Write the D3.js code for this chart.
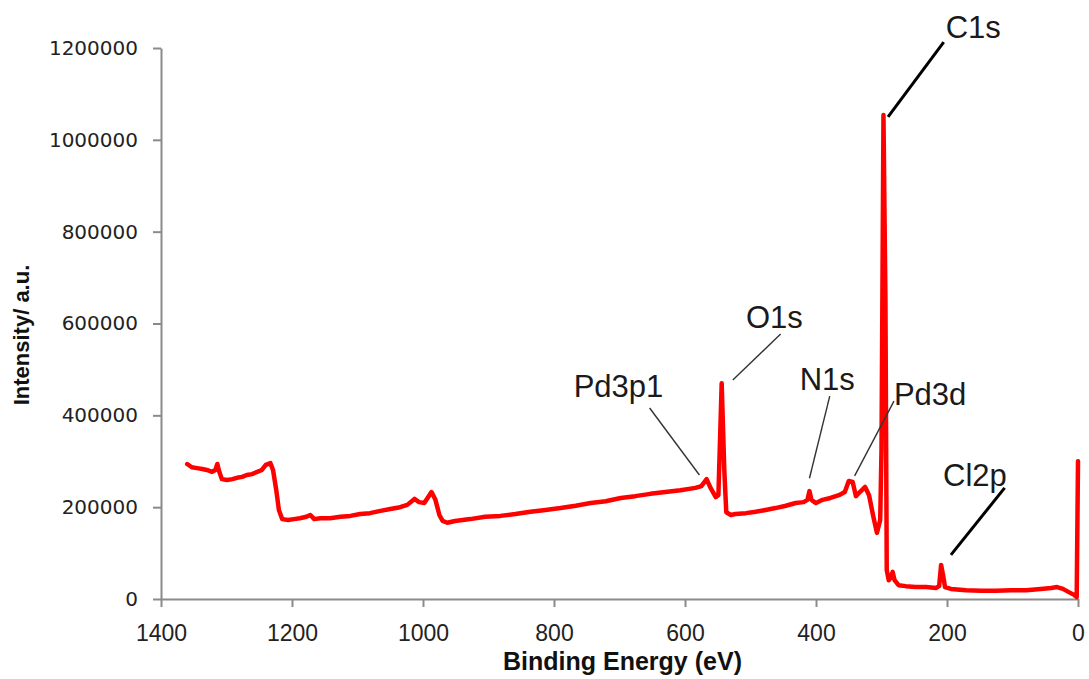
<!DOCTYPE html>
<html>
<head>
<meta charset="utf-8">
<script src="https://cdn.jsdelivr.net/npm/d3@7"></script>
<style>
  html, body { margin: 0; padding: 0; background: #fff; }
  #viewPanel { width: 1089px; height: 679px; }
</style>
</head>
<body>
<div id="viewPanel"></div>
<script>
// XPS survey spectrum, binding energy (eV) vs intensity (a.u.)
const energy = [
  1360, 1353, 1345, 1337, 1330, 1322, 1317, 1314, 1311, 1307,
  1299, 1291, 1284, 1276, 1269, 1261, 1253, 1246, 1240, 1233,
  1229, 1224, 1220, 1215,
  1206, 1197, 1188, 1178, 1172, 1166, 1157, 1142, 1126, 1111,
  1096, 1081, 1065, 1050, 1035, 1024, 1013, 1006, 998, 992,
  987, 981, 975, 970, 963,
  951, 928, 905, 882, 859, 836, 813, 790, 767, 744,
  721, 698, 676, 653, 630, 607, 584, 575, 567, 561,
  553, 549, 544, 540, 537, 530,
  523, 507, 492, 477, 462, 446, 431, 419, 413, 410,
  407, 400, 390, 378, 365, 356, 350, 344, 339, 333,
  325, 319, 313, 307, 302, 300, 297, 294, 292, 289,
  286, 283, 280, 274, 263, 248, 232, 217, 212, 209,
  206, 203, 194, 171, 148, 125, 102, 79, 57, 41,
  32, 23, 14, 6, 2, 0
];
const intensity = [
  294000, 287000, 285000, 283000, 281000, 277000, 281000, 294000, 277000, 261000,
  259000, 261000, 264000, 266000, 270000, 272000, 277000, 281000, 292000, 296000,
  281000, 237000, 194000, 174000,
  172000, 174000, 176000, 179000, 183000, 174000, 176000, 176000, 179000, 181000,
  185000, 187000, 192000, 196000, 200000, 205000, 218000, 211000, 209000, 222000,
  233000, 216000, 183000, 170000, 166000,
  170000, 174000, 179000, 181000, 185000, 190000, 194000, 198000, 203000, 209000,
  213000, 220000, 224000, 229000, 233000, 237000, 242000, 246000, 261000, 242000,
  222000, 226000, 470000, 281000, 189000, 183000,
  185000, 187000, 190000, 194000, 198000, 203000, 209000, 211000, 216000, 235000,
  216000, 209000, 216000, 220000, 226000, 233000, 257000, 255000, 224000, 233000,
  244000, 226000, 183000, 144000, 172000, 325000, 1054000, 651000, 63000, 41000,
  46000, 59000, 41000, 30000, 28000, 26000, 26000, 24000, 28000, 74000,
  52000, 26000, 22000, 19000, 18000, 18000, 19000, 19000, 22000, 24000,
  26000, 22000, 15000, 9000, 4000, 300000
];

const xTicks = [1400, 1200, 1000, 800, 600, 400, 200, 0];
const yTicks = [0, 200000, 400000, 600000, 800000, 1000000, 1200000];

// peak annotations: label, text anchor point and leader line ends (data units)
const annLabels = ["C1s", "O1s", "Pd3p1", "N1s", "Pd3d", "Cl2p"];
const annTextE  = [202, 507, 770, 425, 281, 206];
const annTextI  = [1222000, 590000, 440000, 455000, 422000, 246000];
const annFromE  = [205, 454, 654, 379, 281, 112];
const annFromI  = [1213000, 577000, 416000, 442000, 431000, 242000];
const annToE    = [290, 527, 578, 410, 341, 194];
const annToI    = [1050000, 477000, 270000, 263000, 268000, 96000];

const thickLeaders = new Set(["C1s", "Cl2p"]);

const width = 1089;
const height = 679;
const margin = { top: 48, right: 11, bottom: 80, left: 161 };
const axisColor = '#8a8a8a';

const x = d3.scaleLinear()
    .domain([1400, 0])
    .range([margin.left, width - margin.right]);

const y = d3.scaleLinear()
    .domain([0, 1200000])
    .range([height - margin.bottom, margin.top]);

const svg = d3.select('#viewPanel')
    .append('svg')
    .attr('width', width)
    .attr('height', height)
    .attr('viewBox', [0, 0, width, height]);

// Y axis
const yAxis = svg.append('g')
    .attr('transform', `translate(${margin.left},0)`)
    .call(d3.axisLeft(y)
        .tickValues(yTicks)
        .tickFormat(d3.format('d'))
        .tickSize(8)
        .tickSizeOuter(0)
        .tickPadding(15));

yAxis.selectAll('text')
    .attr('font-family', '"DejaVu Sans", Verdana, sans-serif')
    .attr('font-size', 20)
    .attr('fill', '#222');

// X axis
const xAxis = svg.append('g')
    .attr('transform', `translate(0,${height - margin.bottom})`)
    .call(d3.axisBottom(x)
        .tickValues(xTicks)
        .tickFormat(d3.format('d'))
        .tickSize(8)
        .tickSizeOuter(0)
        .tickPadding(18));

xAxis.selectAll('text')
    .attr('font-family', '"Liberation Sans", Arial, sans-serif')
    .attr('font-size', 23)
    .attr('fill', '#222');

svg.selectAll('.domain, .tick line')
    .attr('stroke', axisColor)
    .attr('stroke-width', 2);

// Axis titles
svg.append('text')
    .attr('x', (margin.left + width - margin.right) / 2 + 3)
    .attr('y', 670)
    .attr('text-anchor', 'middle')
    .attr('font-family', '"Liberation Sans", Arial, sans-serif')
    .attr('font-weight', 'bold')
    .attr('font-size', 25)
    .attr('fill', '#111')
    .text('Binding Energy (eV)');

svg.append('text')
    .attr('transform', 'translate(29,335) rotate(-90)')
    .attr('text-anchor', 'middle')
    .attr('font-family', '"Liberation Sans", Arial, sans-serif')
    .attr('font-weight', 'bold')
    .attr('font-size', 22)
    .attr('fill', '#111')
    .text('Intensity/ a.u.');

// Spectrum
const points = energy.map((e, i) => [e, intensity[i]]);

const line = d3.line()
    .x(d => x(d[0]))
    .y(d => y(d[1]));

svg.append('path')
    .datum(points)
    .attr('fill', 'none')
    .attr('stroke', '#ff0000')
    .attr('stroke-width', 4.5)
    .attr('stroke-linejoin', 'round')
    .attr('stroke-linecap', 'round')
    .attr('d', line);

// Annotations
const annotations = annLabels.map((label, i) => ({
    label,
    tx: annTextE[i], ty: annTextI[i],
    x1: annFromE[i], y1: annFromI[i],
    x2: annToE[i], y2: annToI[i]
}));

const gAnn = svg.append('g');

gAnn.selectAll('line')
    .data(annotations)
    .join('line')
    .attr('x1', d => x(d.x1))
    .attr('y1', d => y(d.y1))
    .attr('x2', d => x(d.x2))
    .attr('y2', d => y(d.y2))
    .attr('stroke', d => thickLeaders.has(d.label) ? '#000' : '#333')
    .attr('stroke-width', d => thickLeaders.has(d.label) ? 3 : 1.4);

gAnn.selectAll('text')
    .data(annotations)
    .join('text')
    .attr('x', d => x(d.tx))
    .attr('y', d => y(d.ty))
    .attr('font-family', '"Liberation Sans", Arial, sans-serif')
    .attr('font-size', 31)
    .attr('fill', '#1a1a1a')
    .text(d => d.label);
</script>
</body>
</html>
